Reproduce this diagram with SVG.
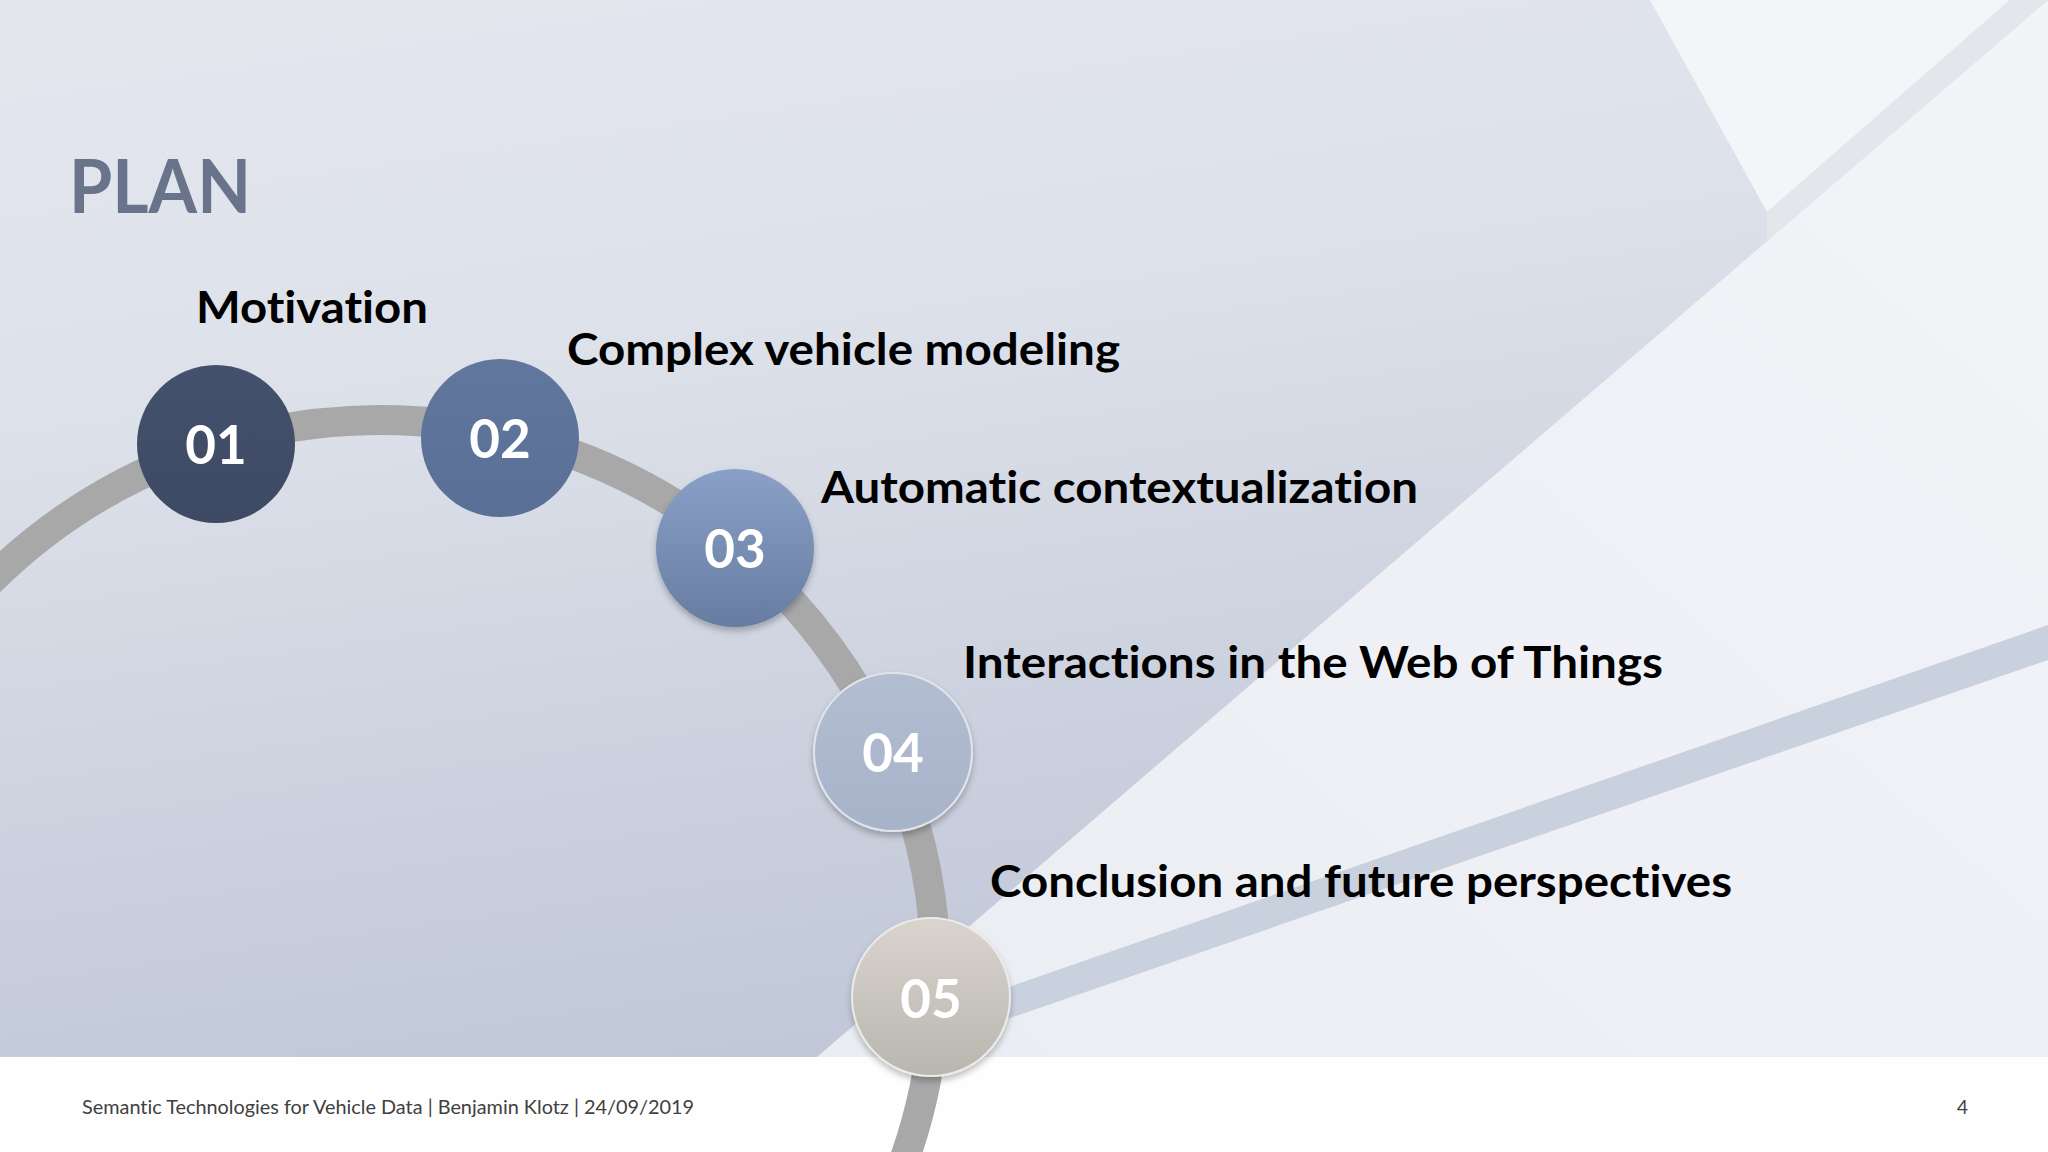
<svg xmlns="http://www.w3.org/2000/svg" width="2048" height="1152" viewBox="0 0 2048 1152">
  <defs>
    <linearGradient id="bgMid" x1="0" y1="0" x2="0.25" y2="1">
      <stop offset="0" stop-color="#e4e7ee"/>
      <stop offset="0.35" stop-color="#dde1ea"/>
      <stop offset="0.7" stop-color="#cbd1de"/>
      <stop offset="1" stop-color="#bfc6d7"/>
    </linearGradient>
    <linearGradient id="bgLight" x1="0" y1="1" x2="1" y2="0">
      <stop offset="0" stop-color="#eaedf3"/>
      <stop offset="1" stop-color="#f3f4f8"/>
    </linearGradient>
    <linearGradient id="g01" x1="0" y1="0" x2="0" y2="1">
      <stop offset="0" stop-color="#44516c"/>
      <stop offset="1" stop-color="#3e4a64"/>
    </linearGradient>
    <linearGradient id="g02" x1="0" y1="0" x2="0" y2="1">
      <stop offset="0" stop-color="#62779d"/>
      <stop offset="1" stop-color="#5a6f95"/>
    </linearGradient>
    <linearGradient id="g03" x1="0" y1="0" x2="0" y2="1">
      <stop offset="0" stop-color="#8aa0c6"/>
      <stop offset="1" stop-color="#677ca1"/>
    </linearGradient>
    <linearGradient id="g04" x1="0" y1="0" x2="0" y2="1">
      <stop offset="0" stop-color="#b3bdd2"/>
      <stop offset="1" stop-color="#a7b3c9"/>
    </linearGradient>
    <linearGradient id="g05" x1="0" y1="0" x2="0" y2="1">
      <stop offset="0" stop-color="#d9d5ce"/>
      <stop offset="1" stop-color="#b9b6af"/>
    </linearGradient>
    <filter id="shadow" x="-30%" y="-30%" width="160%" height="170%">
      <feDropShadow dx="0" dy="4" stdDeviation="3" flood-color="#000" flood-opacity="0.25"/>
    </filter>
    <style>
      text { font-variant-ligatures: none; font-feature-settings: "liga" 0; }
      .num { font-family: Lato, "Open Sans", "Liberation Sans", sans-serif; font-weight: bold; font-size: 53px; fill: #ffffff; text-anchor: middle; }
      .label { font-family: Lato, "Open Sans", "Liberation Sans", sans-serif; font-weight: bold; font-size: 44px; fill: #000000; }
      .title { font-family: Lato, "Open Sans", "Liberation Sans", sans-serif; font-weight: bold; font-size: 74px; fill: #69738a; }
      .footer { font-family: Lato, "Open Sans", "Liberation Sans", sans-serif; font-size: 19px; fill: #404040; }
      .track { fill: none; stroke: #a8a8a8; stroke-width: 30; }
    </style>
  </defs>

  <!-- background -->
  <g id="background">
    <rect x="0" y="0" width="2048" height="1152" fill="url(#bgMid)"/>
    <polygon points="817,1057 2048,0 2048,1057" fill="url(#bgLight)"/>
    <polygon points="1650,0 1767,212 2010,0" fill="#f4f5f9"/>
    <polygon points="1767,212 2010,0 2048,0 1767,241" fill="#e5e6ec"/>
    <polygon points="880,1032 2048,625 2048,660 897,1057 880,1057" fill="#c9d0de"/>
    <rect x="0" y="1057" width="2048" height="95" fill="#fefefe"/>
  </g>

  <!-- connectors -->
  <g id="connectors">
    <circle class="track" cx="381" cy="975" r="555"/>
  </g>

  <g id="node-01">
    <circle cx="216" cy="444" r="79" fill="url(#g01)"/>
    <text class="num" x="216" y="464">01</text>
  </g>
  <g id="node-02">
    <circle cx="500" cy="438" r="79" fill="url(#g02)"/>
    <text class="num" x="500" y="458">02</text>
  </g>
  <g id="node-03">
    <circle cx="735" cy="548" r="79" fill="url(#g03)" filter="url(#shadow)"/>
    <text class="num" x="735" y="568">03</text>
  </g>
  <g id="node-04">
    <circle cx="893" cy="752" r="79" fill="url(#g04)" stroke="#e2e4ea" stroke-width="2" filter="url(#shadow)"/>
    <text class="num" x="893" y="772">04</text>
  </g>
  <g id="node-05">
    <circle cx="931" cy="997" r="79" fill="url(#g05)" stroke="#ecebe8" stroke-width="2" filter="url(#shadow)"/>
    <text class="num" x="931" y="1018">05</text>
  </g>

  <g id="labels">
    <text class="title" x="69" y="213" textLength="182" lengthAdjust="spacingAndGlyphs">PLAN</text>
    <text class="label" x="196" y="323" textLength="232" lengthAdjust="spacingAndGlyphs">Motivation</text>
    <text class="label" x="567" y="365" textLength="553" lengthAdjust="spacingAndGlyphs">Complex vehicle modeling</text>
    <text class="label" x="821" y="503" textLength="597" lengthAdjust="spacingAndGlyphs">Automatic contextualization</text>
    <text class="label" x="963" y="678" textLength="700" lengthAdjust="spacingAndGlyphs">Interactions in the Web of Things</text>
    <text class="label" x="990" y="897" textLength="742" lengthAdjust="spacingAndGlyphs">Conclusion and future perspectives</text>
  </g>

  <g id="footer">
    <text class="footer" x="82" y="1114" textLength="612" lengthAdjust="spacingAndGlyphs">Semantic Technologies for Vehicle Data | Benjamin Klotz | 24/09/2019</text>
    <text class="footer" x="1957" y="1114">4</text>
  </g>
</svg>
